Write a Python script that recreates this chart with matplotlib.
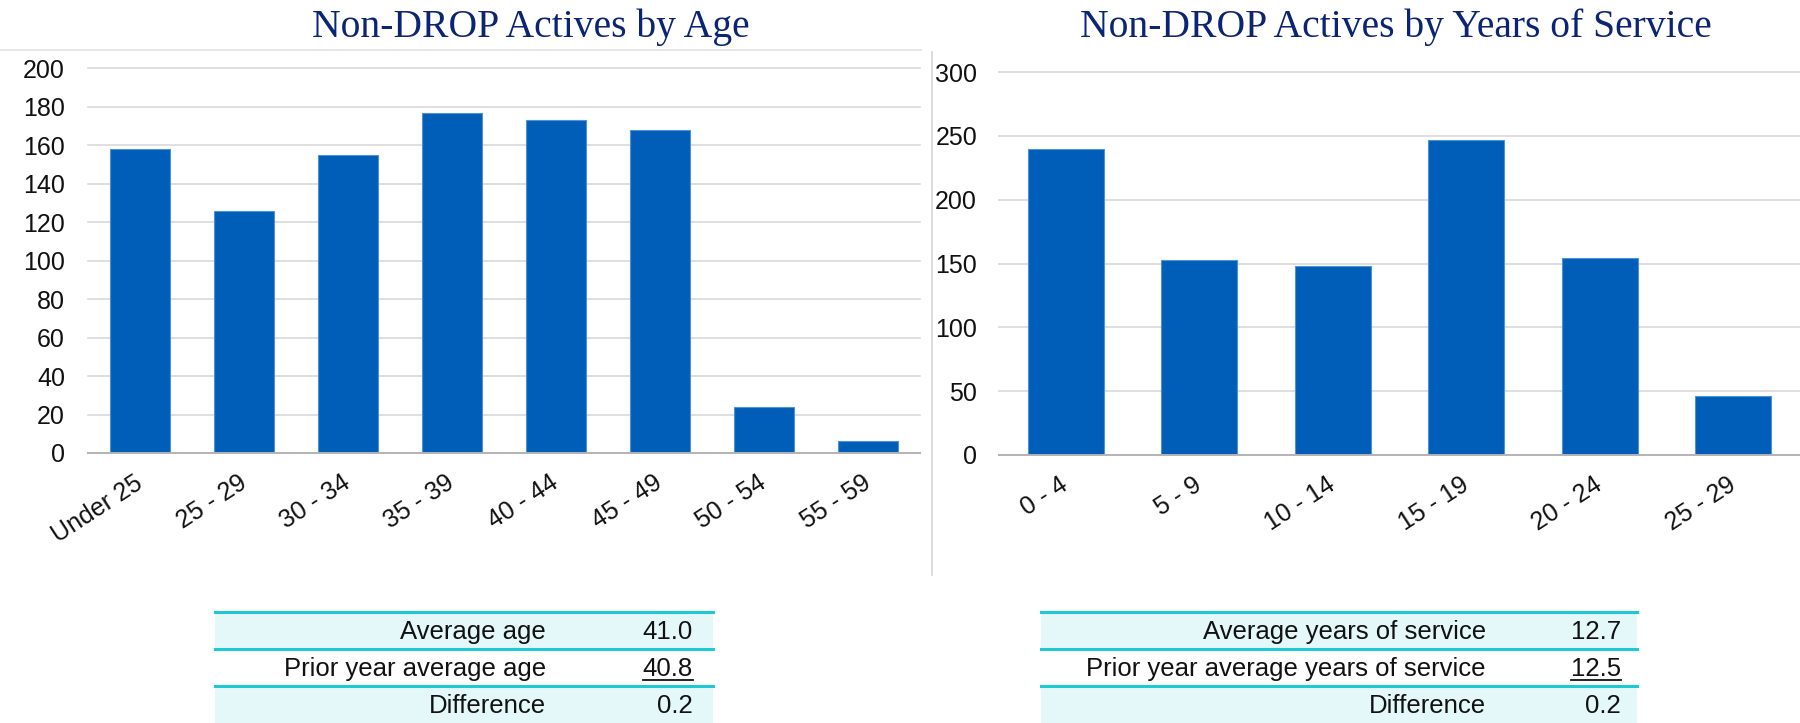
import matplotlib
matplotlib.use("Agg")
import matplotlib.pyplot as plt
from matplotlib.lines import Line2D
from matplotlib.patches import Rectangle

# ---------------- data ----------------
age_categories = ["Under 25", "25 - 29", "30 - 34", "35 - 39", "40 - 44", "45 - 49", "50 - 54", "55 - 59"]
age_counts = [158, 126, 155, 177, 173, 168, 24, 6]
age_yticks = [0, 20, 40, 60, 80, 100, 120, 140, 160, 180, 200]

service_categories = ["0 - 4", "5 - 9", "10 - 14", "15 - 19", "20 - 24", "25 - 29"]
service_counts = [240, 153, 148, 247, 154, 46]
service_yticks = [0, 50, 100, 150, 200, 250, 300]

age_title = "Non-DROP Actives by Age"
service_title = "Non-DROP Actives by Years of Service"

age_table_labels = ["Average age", "Prior year average age", "Difference"]
age_table_values = ["41.0", "40.8", "0.2"]
service_table_labels = ["Average years of service", "Prior year average years of service", "Difference"]
service_table_values = ["12.7", "12.5", "0.2"]

# ---------------- style ----------------
W, H = 1800, 723
BAR = "#005EB8"
BAR_EDGE = "#4F93D6"
GRID = "#D9D9D9"
BASE = "#B4B4B4"
TITLE_C = "#0B2473"
TEAL = "#1EC8D4"
ROWFILL = "#E4F8FA"
SANS = ["Liberation Sans", "DejaVu Sans"]
SERIF = ["Liberation Serif", "DejaVu Serif"]
TICK_FS = 18
TABLE_FS = 18.5

fig = plt.figure(figsize=(W / 100, H / 100), dpi=100)


def fx(px):
    return px / W


def fy(py):
    return 1 - py / H


def make_axes(x0, x1, ytop, ybot):
    return fig.add_axes([fx(x0), fy(ybot), fx(x1 - x0), (ybot - ytop) / H])


def style_bar_axes(ax, cats, vals, yticks, width, ypad, xpad):
    x = list(range(len(cats)))
    ax.bar(x, vals, width=width, color=BAR, edgecolor=BAR_EDGE, linewidth=0.8, zorder=3)
    ax.set_xlim(-0.5, len(cats) - 0.5)
    ax.set_ylim(yticks[0], yticks[-1])
    ax.set_yticks(yticks)
    ax.set_xticks(x)
    ax.set_xticklabels(cats, rotation=33, ha="right", va="center",
                       rotation_mode="anchor", fontsize=TICK_FS, family=SANS, color="#111111")
    for lbl in ax.get_yticklabels():
        lbl.set_fontsize(TICK_FS)
        lbl.set_family(SANS)
        lbl.set_color("#111111")
    ax.tick_params(axis="y", length=0, pad=ypad)
    ax.tick_params(axis="x", length=0, pad=xpad)
    for s in ax.spines.values():
        s.set_visible(False)
    ax.yaxis.grid(True, color=GRID, linewidth=1.2, zorder=0)
    ax.set_axisbelow(True)
    ax.axhline(0, color=BASE, linewidth=1.4, zorder=4, clip_on=False)
    for gl in ax.get_ygridlines():
        gl.set_clip_on(False)


# left chart
ax1 = make_axes(88, 920, 68.3, 453)
style_bar_axes(ax1, age_categories, age_counts, age_yticks, 0.577, 16.5, 20)

# right chart
ax2 = make_axes(999, 1800, 72, 455)
style_bar_axes(ax2, service_categories, service_counts, service_yticks, 0.57, 15.8, 20)

# titles
fig.text(fx(531), fy(37), age_title, ha="center", va="baseline",
         fontsize=28.5, family=SERIF, color=TITLE_C)
fig.text(fx(1396), fy(37), service_title, ha="center", va="baseline",
         fontsize=28.5, family=SERIF, color=TITLE_C)

# chart frame fragments
fig.add_artist(Line2D([fx(0), fx(921)], [fy(50), fy(50)], color="#E3E3E3", linewidth=1.2))
fig.add_artist(Line2D([fx(931.7), fx(931.7)], [fy(52), fy(575)], color="#D6D6D6", linewidth=1.2))


# tables
def draw_table(x0, x1, label_right, value_right, labels, values):
    row_tops = [612, 649, 686]
    row_h = [37, 37, 37]
    baselines = [639, 676, 713]
    fills = [ROWFILL, "white", ROWFILL]
    for top, h, f in zip(row_tops, row_h, fills):
        fig.add_artist(Rectangle((fx(x0), fy(top + h)), fx(x1 - x0), h / H,
                                 facecolor=f, edgecolor="none", zorder=1))
    for top in row_tops:
        fig.add_artist(Line2D([fx(x0), fx(x1)], [fy(top), fy(top)], color=TEAL,
                              linewidth=2.2, zorder=2))
    texts = []
    for lab, val, bl in zip(labels, values, baselines):
        fig.text(fx(label_right), fy(bl), lab, ha="right", va="baseline",
                 fontsize=TABLE_FS, family=SANS, color="#111111", zorder=3)
        t = fig.text(fx(value_right), fy(bl), val, ha="right", va="baseline",
                     fontsize=TABLE_FS, family=SANS, color="#111111", zorder=3)
        texts.append(t)
    return texts


t_age = draw_table(215, 713, 546, 693, age_table_labels, age_table_values)
t_srv = draw_table(1041, 1637, 1486, 1621, service_table_labels, service_table_values)

# underline the prior-year values
renderer = fig.canvas.get_renderer()
for t in (t_age[1], t_srv[1]):
    bb = t.get_window_extent(renderer=renderer)
    yline = fy(680)
    fig.add_artist(Line2D([bb.x0 / W, bb.x1 / W], [yline, yline], color="#111111",
                          linewidth=1.3, zorder=3))

fig.savefig("out.png", dpi=100, facecolor="white")
